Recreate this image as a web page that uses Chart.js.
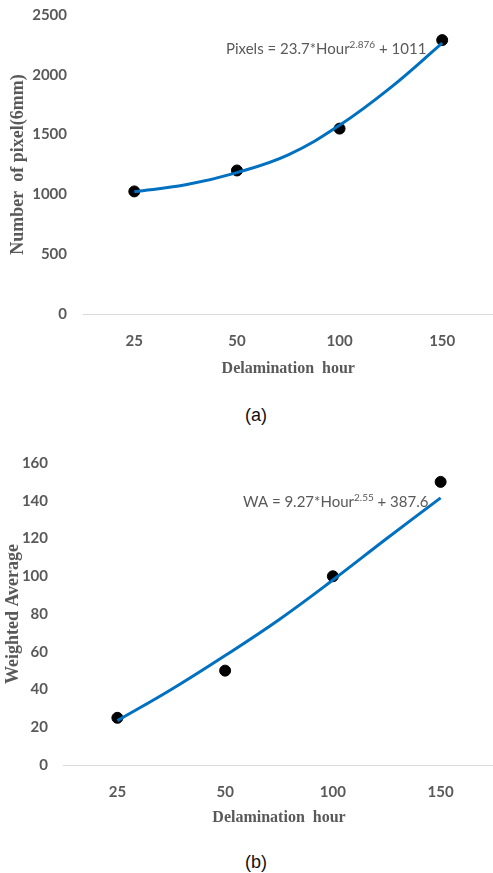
<!DOCTYPE html>
<html>
<head>
<meta charset="utf-8">
<script src="https://cdn.jsdelivr.net/npm/chart.js@4.4.1/dist/chart.umd.min.js"></script>
<style>
  html, body { margin: 0; padding: 0; background: #fff; overflow: hidden; width: 493px; height: 873px; }
  .wrap { position: absolute; left: 0; }
  #wrapA { top: 0; width: 500px; height: 400px; }
  #wrapB { top: 430px; width: 501px; height: 420px; }
  .cap { position: absolute; left: 0; width: 512px; text-align: center;
         font-family: "Liberation Sans", Arial, sans-serif; font-size: 18px; line-height: 20px; color: #111; }
</style>
</head>
<body>
<div class="wrap" id="wrapA"><canvas id="chartA"></canvas></div>
<div class="cap" style="top:405px">(a)</div>
<div class="wrap" id="wrapB"><canvas id="chartB"></canvas></div>
<div class="cap" style="top:852px">(b)</div>
<script>
// Delamination hours shown on the category axis, placed at positions 1..4
const hourLabels = ['25', '50', '100', '150'];
const hourPos = [1, 2, 3, 4];

// (a) pixel counts (6 mm) and the fitted power curve
const pixelCounts = [1025, 1200, 1550, 2290];
const pixelFitPos = [1, 1.5, 2, 2.5, 3, 3.5, 4];
const pixelFitValues = [1023, 1080, 1182, 1330, 1578, 1895, 2265];

// (b) weighted average and its fitted curve
const weightedAvg = [25, 50, 100, 150];
const waFitPos = [1, 1.5, 2, 2.5, 3, 3.5, 4];
const waFitValues = [23.5, 40, 58, 77, 98, 120, 141.5];

const GREY = '#595959';
const BLUE = '#0070c0';

// Draws a fit equation with a superscript exponent
const equationLabel = {
  id: 'equationLabel',
  afterDraw(chart, args, o) {
    if (!o || !o.parts) return;
    const ctx = chart.ctx;
    ctx.save();
    ctx.fillStyle = o.color;
    ctx.textBaseline = 'alphabetic';
    let x = o.x;
    for (const p of o.parts) {
      ctx.font = (p.sup ? o.supSize : o.size) + 'px ' + o.family;
      ctx.fillText(p.text, x, p.sup ? o.y - o.raise : o.y);
      x += ctx.measureText(p.text).width;
    }
    ctx.restore();
  }
};

function points(xs, ys) {
  return xs.map((x, i) => ({ x: x, y: ys[i] }));
}

function buildChart(id, cfg) {
  return new Chart(document.getElementById(id), {
    type: 'scatter',
    data: {
      datasets: [
        {
          data: points(cfg.fitPos, cfg.fitValues),
          showLine: true,
          borderColor: BLUE,
          borderWidth: 3,
          pointRadius: 0,
          tension: 0.4,
          order: 0
        },
        {
          data: points(hourPos, cfg.values),
          backgroundColor: '#000',
          borderColor: '#000',
          pointRadius: 5.5,
          order: 1
        }
      ]
    },
    options: {
      responsive: true,
      maintainAspectRatio: false,
      animation: false,
      events: [],
      layout: { padding: cfg.padding },
      plugins: {
        legend: { display: false },
        tooltip: { enabled: false },
        equationLabel: cfg.equation
      },
      scales: {
        x: {
          type: 'linear',
          min: 0.5,
          max: 4.5,
          afterBuildTicks: (s) => { s.ticks = hourPos.map(v => ({ value: v })); },
          afterFit: (s) => { s.height = cfg.xHeight; s.paddingLeft = 0; s.paddingRight = 0; },
          grid: { display: false, drawTicks: false },
          border: { display: true, color: '#d9d9d9', width: 1 },
          ticks: {
            padding: cfg.xTickPad,
            color: GREY,
            font: { family: 'Lato', weight: 'bold', size: 15 },
            callback: (v) => hourLabels[hourPos.indexOf(v)] ?? ''
          },
          title: {
            display: true,
            text: 'Delamination  hour',
            color: GREY,
            font: { family: '"Liberation Serif", "Times New Roman", serif', weight: 'bold', size: 16 },
            padding: { top: 0, bottom: cfg.xTitlePad }
          }
        },
        y: {
          min: 0,
          max: cfg.yMax,
          afterFit: (s) => { s.width = cfg.yWidth; s.paddingTop = 0; s.paddingBottom = 0; },
          grid: { display: false, drawTicks: false },
          border: { display: false },
          ticks: {
            stepSize: cfg.yStep,
            padding: cfg.yTickPad,
            color: GREY,
            font: { family: 'Lato', weight: 'bold', size: 15 },
            callback: (v) => String(v)
          },
          title: {
            display: true,
            text: cfg.yTitle,
            color: GREY,
            font: { family: '"Liberation Serif", "Times New Roman", serif', weight: 'bold', size: 18 },
            padding: { top: cfg.yTitlePad, bottom: 0 }
          }
        }
      }
    },
    plugins: [equationLabel]
  });
}

buildChart('chartA', {
  values: pixelCounts,
  fitPos: pixelFitPos,
  fitValues: pixelFitValues,
  yMax: 2500,
  yStep: 500,
  yTitle: 'Number  of pixel(6mm)',
  yWidth: 83,
  yTickPad: 16,
  yTitlePad: 8,
  xHeight: 86,
  xTickPad: 18,
  xTitlePad: 22,
  padding: { top: 15, right: 1, left: 0, bottom: 0 },
  equation: {
    x: 226, y: 54, size: 15, supSize: 10, raise: 6, family: 'Lato', color: GREY,
    parts: [{ text: 'Pixels = 23.7*Hour' }, { text: '2.876', sup: true }, { text: ' + 1011' }]
  }
});

buildChart('chartB', {
  values: weightedAvg,
  fitPos: waFitPos,
  fitValues: waFitValues,
  yMax: 160,
  yStep: 20,
  yTitle: 'Weighted Average',
  yWidth: 63.5,
  yTickPad: 15.5,
  yTitlePad: 2.4,
  xHeight: 85,
  xTickPad: 18,
  xTitlePad: 23,
  padding: { top: 33, right: 0, left: 0, bottom: 0 },
  equation: {
    x: 243, y: 77, size: 15, supSize: 10, raise: 6, family: 'Lato', color: GREY,
    parts: [{ text: 'WA = 9.27*Hour' }, { text: '2.55', sup: true }, { text: ' + 387.6' }]
  }
});
</script>
</body>
</html>
